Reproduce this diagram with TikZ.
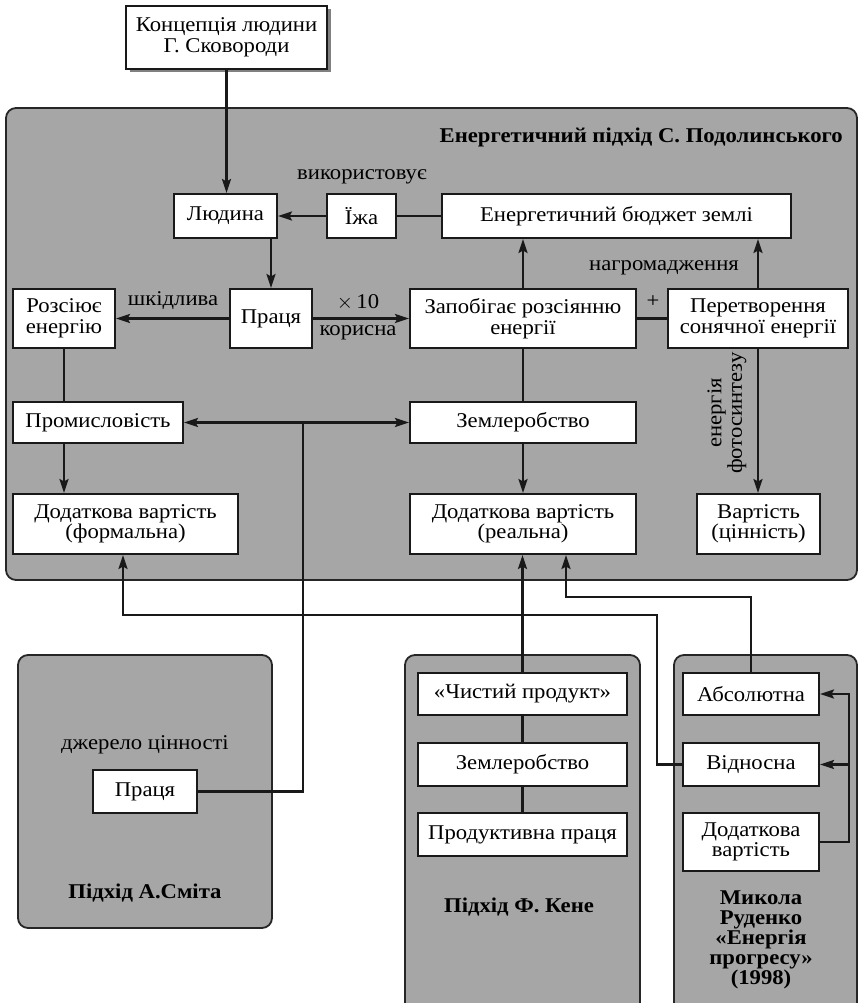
\documentclass[tikz,border=0pt]{standalone}
\usepackage{fontspec}
\setmainfont{Liberation Serif}[FakeStretch=1.08]
\usetikzlibrary{arrows.meta,calc,shadows}
\definecolor{panelgray}{RGB}{166,166,166}
\begin{document}
\begin{tikzpicture}[x=1pt,y=-1pt,
  box/.style={draw=black!90, fill=white, line width=2pt, align=center, inner sep=0pt, font=\fontsize{21}{20.5}\selectfont},
  panel/.style={draw=black!85, fill=panelgray, line width=1.8pt, rounded corners=10pt},
  conn/.style={line width=2.3pt, draw=black!90},
  arr/.style={conn, -{Stealth[length=14pt,width=9pt,inset=2.5pt]}},
  darr/.style={conn, {Stealth[length=14pt,width=9pt,inset=2.5pt]}-{Stealth[length=14pt,width=9pt,inset=2.5pt]}},
  lbl/.style={font=\fontsize{21}{20.5}\selectfont, inner sep=0pt, align=center},
  ttl/.style={font=\fontsize{21}{20}\bfseries\selectfont, inner sep=0pt, align=center},
]
\clip (0,0) rectangle (858,1003);
% panels
\draw[panel] (6,108) rectangle (857,580);
\draw[panel] (18,655) rectangle (272,928);
\draw[panel] (405,655) rectangle (640,1015);
\draw[panel] (674,655) rectangle (857,1015);

% nodes
\node[box, minimum width=201pt, minimum height=63pt, drop shadow={shadow xshift=3.5pt, shadow yshift=-3.5pt, fill=black!50, opacity=1}] (konc) at (226.5,37.5) {Концепція людини\\Г. Сковороди};
\node[ttl, anchor=east] (title) at (843,137) {Енергетичний підхід С. Подолинського};
\node[box, minimum width=103pt, minimum height=44pt] (lyud) at (225.5,216) {Людина};
\node[box, minimum width=69pt, minimum height=44pt] (yizha) at (361.5,216) {Їжа};
\node[box, minimum width=349pt, minimum height=44pt] (budget) at (616.5,216) {Енергетичний бюджет землі};
\node[box, minimum width=82pt, minimum height=59pt] (pratsia) at (271,318.5) {Праця};
\node[box, minimum width=102pt, minimum height=59pt] (rozs) at (64,318.5) {Розсіює\\енергію};
\node[box, minimum width=226pt, minimum height=59pt] (zapob) at (523,318.5) {Запобігає розсіянню\\енергії};
\node[box, minimum width=180pt, minimum height=59pt] (peretv) at (758,318.5) {Перетворення\\сонячної енергії};
\node[box, minimum width=226pt, minimum height=41pt] (zemlr) at (523,422.5) {Землеробство};
\node[box, minimum width=170pt, minimum height=41pt] (prom) at (98,422.5) {Промисловість};
\node[box, minimum width=225pt, minimum height=60pt] (dodf) at (125.5,524) {Додаткова вартість\\(формальна)};
\node[box, minimum width=226pt, minimum height=60pt] (dodr) at (523,524) {Додаткова вартість\\(реальна)};
\node[box, minimum width=123pt, minimum height=60pt] (vart) at (758.5,524) {Вартість\\(цінність)};

\node[box, minimum width=104pt, minimum height=43pt] (pr2) at (145,791.5) {Праця};
\node[box, minimum width=209pt, minimum height=42pt] (chyst) at (522.5,694) {«Чистий продукт»};
\node[box, minimum width=209pt, minimum height=43pt] (zem2) at (522.5,764.5) {Землеробство};
\node[box, minimum width=209pt, minimum height=43pt] (prod) at (522.5,834.5) {Продуктивна праця};
\node[box, minimum width=136pt, minimum height=42pt] (abs) at (751,694) {Абсолютна};
\node[box, minimum width=136pt, minimum height=43pt] (vidn) at (751,764.5) {Відносна};
\node[box, minimum width=136pt, minimum height=58pt] (dod3) at (751,842) {Додаткова\\вартість};

% labels
\node[lbl] (lvyk) at (362,177) {використовує};
\node[lbl] (lshk) at (173,301) {шкідлива};
\node[lbl] (lx10) at (358,302) {$\times$\,10};
\node[lbl] (lkor) at (358,333) {корисна};
\node[lbl] (lplus) at (653,302) {+};
\node[lbl] (lnagr) at (664,268) {нагромадження};
\node[lbl, rotate=90] (lfoto) at (727,413) {енергія\\фотосинтезу};
\node[lbl] (ldzh) at (145,745) {джерело цінності};
\node[ttl] (lsmith) at (145,893) {Підхід А.Сміта};
\node[ttl] (lkene) at (519,907) {Підхід Ф. Кене};
\node[ttl] (lrud) at (761,940) {Микола\\Руденко\\«Енергія\\прогресу»\\(1998)};

% connectors
\draw[arr] (konc.south) -- (konc.south |- lyud.north);
\draw[arr] (yizha.west) -- (lyud.east);
\draw[conn] (budget.west) -- (yizha.east);
\draw[arr] (pratsia.north |- lyud.south) -- (pratsia.north);
\draw[arr] (pratsia.west) -- (rozs.east);
\draw[arr] (pratsia.east) -- (zapob.west);
\draw[conn] (zapob.east) -- (peretv.west);
\draw[arr] (zapob.north) -- (zapob.north |- budget.south);
\draw[arr] (peretv.north) -- (peretv.north |- budget.south);
\draw[conn] (zapob.south) -- (zemlr.north);
\draw[arr] (peretv.south) -- (peretv.south |- vart.north);
\draw[conn] (rozs.south) -- (rozs.south |- prom.north);
\draw[arr] (rozs.south |- prom.south) -- (rozs.south |- dodf.north);
\draw[arr] (zemlr.south) -- (dodr.north);
\draw[darr] (prom.east) -- (zemlr.west);
\coordinate (j1) at (303,422.5);
\draw[conn] (pr2.east) -| (j1);
\draw[arr] (vidn.west) -| (657,615) -| ($(dodf.south)+(-2.5,0)$);
\draw[arr] (chyst.north) -- (chyst.north |- dodr.south);
\draw[arr] (abs.north) |- (566,597) -- ($(dodr.south)+(43,0)$);
\draw[conn] (chyst.south) -- (zem2.north);
\draw[conn] (zem2.south) -- (prod.north);
\draw[arr] (dod3.east) -| ($(abs.east)+(29,0)$) -- (abs.east);
\draw[arr] ($(vidn.east)+(29,0)$) -- (vidn.east);
\end{tikzpicture}
\end{document}
